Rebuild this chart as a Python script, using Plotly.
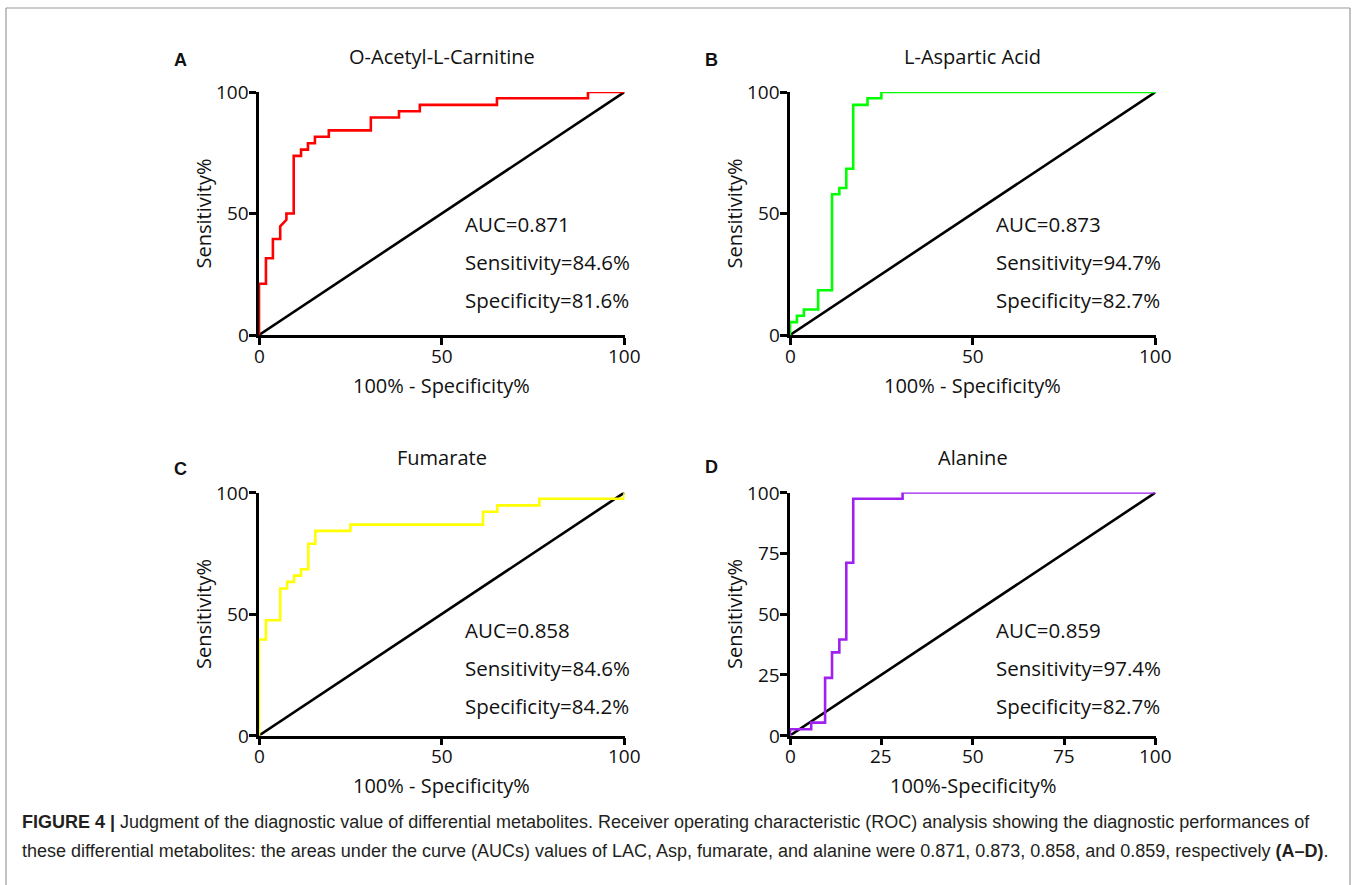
import plotly.graph_objects as go

W, H = 1357, 885

# ---------------- data (ROC points: 100% - Specificity%, Sensitivity%) ----------------
titles = ["O-Acetyl-L-Carnitine", "L-Aspartic Acid", "Fumarate", "Alanine"]
letters = ["A", "B", "C", "D"]
colors = ["#ff0000", "#00ff00", "#ffff00", "#a020f0"]

lac_x = [0, 0, 1.9, 1.9, 3.8, 3.8, 5.8, 5.8, 7.5, 7.5, 9.5, 9.5, 11.5, 11.5, 13.4, 13.4, 15.3, 15.3,
         19.1, 19.1, 30.6, 30.6, 38.3, 38.3, 44.0, 44.0, 65.1, 65.1, 90.0, 90.0, 100]
lac_y = [0, 21.1, 21.1, 31.6, 31.6, 39.5, 39.5, 44.7, 47.4, 50.0, 50.0, 73.7, 73.7, 76.3, 76.3, 78.9,
         78.9, 81.6, 81.6, 84.2, 84.2, 89.5, 89.5, 92.1, 92.1, 94.7, 94.7, 97.4, 97.4, 100, 100]

asp_x = [0, 0, 1.9, 1.9, 3.8, 3.8, 7.7, 7.7, 11.5, 11.5, 13.5, 13.5, 15.4, 15.4, 17.3, 17.3,
         21.2, 21.2, 25.0, 25.0, 100]
asp_y = [0, 5.3, 5.3, 7.9, 7.9, 10.5, 10.5, 18.4, 18.4, 57.9, 57.9, 60.5, 60.5, 68.4, 68.4, 94.7,
         94.7, 97.4, 97.4, 100, 100]

fum_x = [0, 0, 1.9, 1.9, 5.8, 5.8, 7.7, 7.7, 9.6, 9.6, 11.5, 11.5, 13.5, 13.5, 15.4, 15.4,
         25.0, 25.0, 61.3, 61.3, 65.2, 65.2, 76.7, 76.7, 100, 100]
fum_y = [0, 39.5, 39.5, 47.4, 47.4, 60.5, 60.5, 63.2, 63.2, 65.8, 65.8, 68.4, 68.4, 78.9, 78.9,
         84.2, 84.2, 86.8, 86.8, 92.1, 92.1, 94.7, 94.7, 97.4, 97.4, 100]

ala_x = [0, 0, 5.8, 5.8, 9.6, 9.6, 11.5, 11.5, 13.5, 13.5, 15.4, 15.4, 17.3, 17.3, 30.8, 30.8, 100]
ala_y = [0, 2.6, 2.6, 5.3, 5.3, 23.7, 23.7, 34.2, 34.2, 39.5, 39.5, 71.1, 71.1, 97.4, 97.4, 100, 100]

curves_x = [lac_x, asp_x, fum_x, ala_x]
curves_y = [lac_y, asp_y, fum_y, ala_y]

ref_x = [0, 100]
ref_y = [0, 100]

auc_vals = ["0.871", "0.873", "0.858", "0.859"]
sens_vals = ["84.6%", "94.7%", "84.6%", "97.4%"]
spec_vals = ["81.6%", "82.7%", "84.2%", "82.7%"]

tick_sets = [[0, 50, 100], [0, 50, 100], [0, 50, 100], [0, 25, 50, 75, 100]]
xtitles = ["100% - Specificity%", "100% - Specificity%", "100% - Specificity%", "100%-Specificity%"]
ytitle = "Sensitivity%"

caption1 = ("<b>FIGURE 4 |</b> Judgment of the diagnostic value of differential metabolites. "
            "Receiver operating characteristic (ROC) analysis showing the diagnostic performances of")
caption2 = ("these differential metabolites: the areas under the curve (AUCs) values of LAC, Asp, "
            "fumarate, and alanine were 0.871, 0.873, 0.858, and 0.859, respectively <b>(A–D)</b>.")

# ---------------- layout geometry (pixels) ----------------
# (x0, x100, y0, y100) for each panel
boxes = [(259, 624.5, 335, 92), (790, 1155.5, 335, 92),
         (259, 624.5, 735.5, 492.5), (790, 1155.5, 735.5, 492.5)]
letter_y = [60, 60, 469, 467]

FONT = "Open Sans, Noto Sans, sans-serif"
CAP_FONT = "Liberation Sans, Arial, sans-serif"
TXT = "#111111"


def gx(r):
    return r / W


def gy(r):
    return 1 - r / H


fig = go.Figure()
layout = dict(
    width=W, height=H, margin=dict(l=0, r=0, t=0, b=0),
    paper_bgcolor="white", plot_bgcolor="white", showlegend=False,
    font=dict(family=FONT, color=TXT),
)
annotations = []

for i in range(4):
    x0, x1, y0, y1 = boxes[i]
    xa = "xaxis" if i == 0 else f"xaxis{i+1}"
    ya = "yaxis" if i == 0 else f"yaxis{i+1}"
    xr = "x" if i == 0 else f"x{i+1}"
    yr = "y" if i == 0 else f"y{i+1}"
    axis_common = dict(
        range=[0, 100], showgrid=False, zeroline=False, showline=True,
        linecolor="black", linewidth=2.6, ticks="outside", ticklen=7, tickwidth=2.6,
        tickcolor="black", tickvals=tick_sets[i], showticklabels=False, fixedrange=True,
    )
    layout[xa] = dict(axis_common, domain=[gx(x0), gx(x1)], anchor=yr)
    layout[ya] = dict(axis_common, domain=[gy(y0), gy(y1)], anchor=xr)

    fig.add_trace(go.Scatter(x=ref_x, y=ref_y, mode="lines", xaxis=xr, yaxis=yr,
                             line=dict(color="black", width=2.6), hoverinfo="skip"))
    fig.add_trace(go.Scatter(x=curves_x[i], y=curves_y[i], mode="lines", xaxis=xr, yaxis=yr,
                             line=dict(color=colors[i], width=2.6), hoverinfo="skip"))

    # tick labels
    for t in tick_sets[i]:
        annotations.append(dict(text=str(t), x=t, xref=xr, y=gy(y0 + 20.5), yref="paper",
                                showarrow=False, xanchor="center", yanchor="middle",
                                font=dict(family=FONT, size=19, color=TXT)))
        annotations.append(dict(text=str(t), x=gx(x0 - 8), xref="paper", y=t, yref=yr,
                                showarrow=False, xanchor="right", yanchor="middle",
                                font=dict(family=FONT, size=19, color=TXT)))

    cx = (x0 + x1) / 2
    # title
    annotations.append(dict(text=titles[i], x=gx(cx), y=gy(y1 - 35), xref="paper", yref="paper",
                            showarrow=False, xanchor="center", yanchor="middle",
                            font=dict(family=FONT, size=20, color=TXT)))
    # panel letter
    annotations.append(dict(text=f"<b>{letters[i]}</b>", x=gx(x0 - 79), y=gy(letter_y[i]),
                            xref="paper", yref="paper", showarrow=False,
                            xanchor="center", yanchor="middle",
                            font=dict(family=CAP_FONT, size=18, color=TXT)))
    # x title
    annotations.append(dict(text=xtitles[i], x=gx(cx), y=gy(y0 + 50), xref="paper", yref="paper",
                            showarrow=False, xanchor="center", yanchor="middle",
                            font=dict(family=FONT, size=20, color=TXT)))
    # y title
    annotations.append(dict(text=ytitle, x=gx(x0 - 56), y=gy((y0 + y1) / 2), xref="paper",
                            yref="paper", showarrow=False, textangle=-90,
                            xanchor="center", yanchor="middle",
                            font=dict(family=FONT, size=20, color=TXT)))
    # stats text
    stats = [f"AUC={auc_vals[i]}", f"Sensitivity={sens_vals[i]}", f"Specificity={spec_vals[i]}"]
    base = y0 - 111 if i < 2 else y0 - 106
    for k, s in enumerate(stats):
        annotations.append(dict(text=s, x=gx(x0 + 204), y=gy(base + 38 * k), xref="paper",
                                yref="paper", showarrow=False, xanchor="left", yanchor="middle",
                                font=dict(family=FONT, size=20.5, color=TXT)))

annotations.append(dict(text=caption1, x=gx(20), y=gy(822), xref="paper", yref="paper",
                        showarrow=False, xanchor="left", yanchor="middle",
                        font=dict(family=CAP_FONT, size=18, color="#231f20")))
annotations.append(dict(text=caption2, x=gx(20), y=gy(851), xref="paper", yref="paper",
                        showarrow=False, xanchor="left", yanchor="middle",
                        font=dict(family=CAP_FONT, size=18, color="#231f20")))

layout["annotations"] = annotations
border = dict(color="#9a9a9a", width=1.2)
layout["shapes"] = [
    dict(type="line", xref="paper", yref="paper", x0=gx(6), x1=gx(6), y0=0, y1=gy(8), line=border),
    dict(type="line", xref="paper", yref="paper", x0=gx(6), x1=gx(1350), y0=gy(8), y1=gy(8), line=border),
    dict(type="line", xref="paper", yref="paper", x0=gx(1350), x1=gx(1350), y0=0, y1=gy(8), line=border),
]

fig.update_layout(**layout)
fig.write_html("out.html")
